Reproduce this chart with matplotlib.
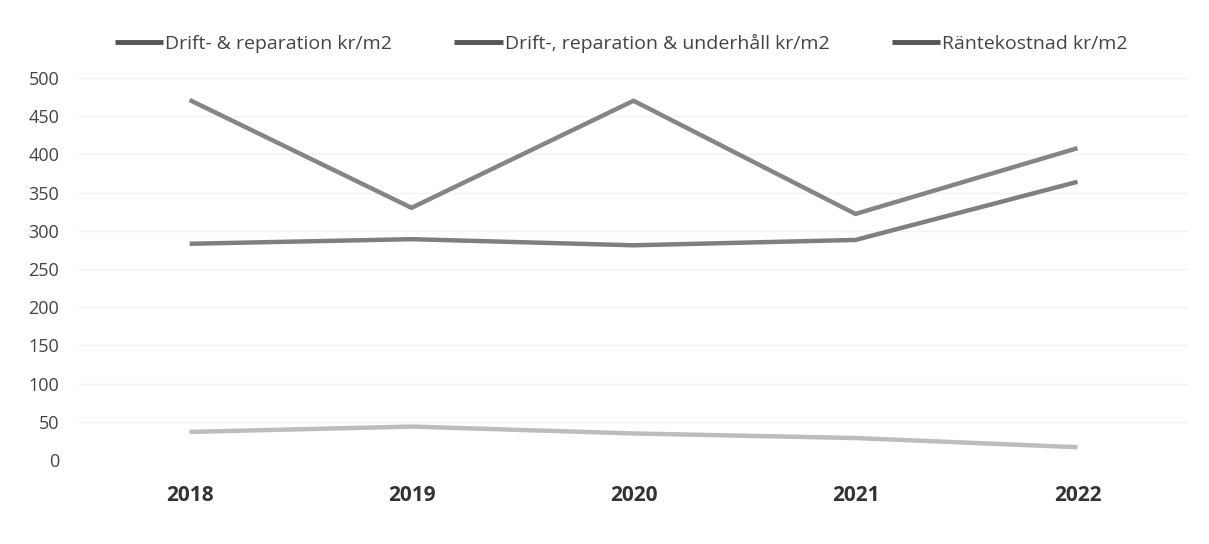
import matplotlib.pyplot as plt

# data
years = ['2018', '2019', '2020', '2021', '2022']
drift_rep = [283, 289, 281, 288, 364]
drift_rep_underhall = [471, 330, 470, 322, 408]
rantekostnad = [37, 44, 35, 29, 17]

plt.rcParams['font.family'] = ['Open Sans', 'DejaVu Sans']

fig = plt.figure(figsize=(12.09, 5.44), dpi=100)
ax = fig.add_axes([0.065, 0.154, 0.918, 0.703])

x = range(len(years))
ax.plot(x, drift_rep, color='#7f7f7f', lw=3.2, label='Drift- & reparation kr/m2', solid_capstyle='butt')
ax.plot(x, drift_rep_underhall, color='#858585', lw=3.2, label='Drift-, reparation & underhåll kr/m2', solid_capstyle='butt')
ax.plot(x, rantekostnad, color='#bdbdbd', lw=3.2, label='Räntekostnad kr/m2', solid_capstyle='butt')

ax.set_xlim(-0.5, 4.5)
ax.set_ylim(0, 500)
ax.set_yticks(range(0, 501, 50))
ax.set_xticks(list(x))
ax.set_xticklabels(years, fontweight='bold', fontsize=15, color='#333333')
ax.tick_params(axis='y', length=0, pad=14, labelsize=13, labelcolor='#444444')
ax.tick_params(axis='x', length=0, pad=18)
ax.grid(axis='y', color='#f3f3f3', lw=1)
for s in ax.spines.values():
    s.set_visible(False)

leg = ax.legend(loc='lower center', bbox_to_anchor=(0.489, 1.02), ncol=3, frameon=False,
                fontsize=14, handlelength=2.5, handletextpad=0.1, columnspacing=3.2,
                labelcolor='#444444')
for h in leg.get_lines():
    h.set_color('#555555')
    h.set_linewidth(3.5)

fig.savefig('out.png', dpi=100)
